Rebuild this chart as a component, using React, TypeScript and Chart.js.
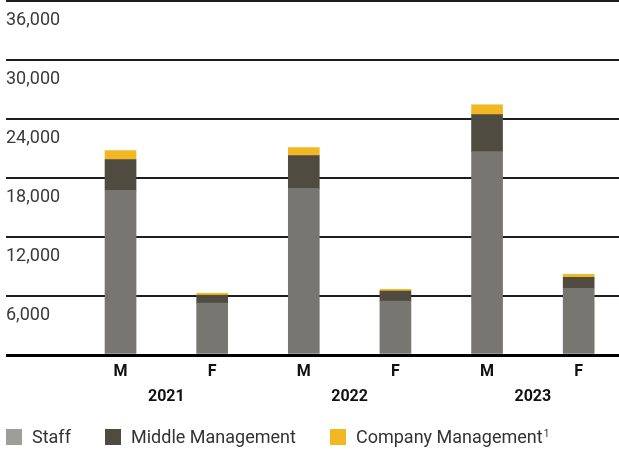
import React, { useEffect, useRef } from "react";
import { Chart, registerables } from "chart.js";

Chart.register(...registerables);

const years = ["2021", "2022", "2023"];
const genders = ["M", "F", "M", "F", "M", "F"];
const staff = [16730, 5270, 16930, 5480, 20690, 6790];
const middleManagement = [3140, 810, 3350, 1010, 3750, 1120];
const companyManagement = [910, 200, 810, 200, 1010, 300];
const yTicks = [0, 6000, 12000, 18000, 24000, 30000, 36000];

const FONT = "Roboto, 'Noto Sans', sans-serif";

export default function App() {
  const ref = useRef<HTMLCanvasElement | null>(null);

  useEffect(() => {
    document.body.style.margin = "0";
    const canvas = ref.current;
    if (!canvas) return;
    const toPoints = (arr: number[]) => arr.map((v, i) => ({ x: i, y: v }));
    const noPadX = (s: any, h: number) => {
      s.height = h;
      s.paddingLeft = 0;
      s.paddingRight = 0;
    };
    const chart = new Chart(canvas, {
      type: "bar",
      data: {
        datasets: [
          { label: "Staff", data: toPoints(staff), backgroundColor: "#777670", barThickness: 31 },
          { label: "Middle Management", data: toPoints(middleManagement), backgroundColor: "#4f4b40", barThickness: 31 },
          { label: "Company Management", data: toPoints(companyManagement), backgroundColor: "#f2b824", barThickness: 31 },
        ],
      },
      options: {
        animation: false,
        responsive: false,
        maintainAspectRatio: false,
        layout: { padding: { left: 6, right: 0, top: 1, bottom: 42 } },
        plugins: { legend: { display: false }, tooltip: { enabled: false } },
        scales: {
          x: {
            type: "linear",
            position: "bottom",
            stacked: true,
            offset: false,
            min: -1.25,
            max: 5.44,
            weight: 0,
            grid: { display: false, drawTicks: false },
            border: { display: false },
            afterBuildTicks: (s: any) => {
              s.ticks = genders.map((_, i) => ({ value: i }));
            },
            afterFit: (s: any) => noPadX(s, 27),
            ticks: {
              autoSkip: false,
              maxRotation: 0,
              padding: 7,
              color: "#111",
              font: { family: FONT, size: 16, weight: "bold" },
              callback: (v: any) => genders[Number(v)] ?? "",
            },
          },
          x2: {
            type: "linear",
            position: "bottom",
            offset: false,
            min: -1.25,
            max: 5.44,
            weight: 1,
            grid: { display: false, drawTicks: false },
            border: { display: false },
            afterBuildTicks: (s: any) => {
              s.ticks = years.map((_, i) => ({ value: i * 2 + 0.5 }));
            },
            afterFit: (s: any) => noPadX(s, 26),
            ticks: {
              autoSkip: false,
              maxRotation: 0,
              padding: 5,
              color: "#111",
              font: { family: FONT, size: 16, weight: "bold" },
              callback: (v: any) => years[Math.round((Number(v) - 0.5) / 2)] ?? "",
            },
          },
          y: {
            type: "linear",
            stacked: true,
            min: yTicks[0],
            max: yTicks[yTicks.length - 1],
            afterBuildTicks: (s: any) => {
              s.ticks = yTicks.map((v) => ({ value: v }));
            },
            afterFit: (s: any) => {
              s.paddingTop = 0;
              s.paddingBottom = 0;
            },
            grid: {
              drawTicks: false,
              color: (c: any) => (c.tick && c.tick.value === 0 ? "#000" : "#1e1e1e"),
              lineWidth: (c: any) => (c.tick && c.tick.value === 0 ? 3 : 2),
            },
            border: { display: false },
            ticks: {
              mirror: true,
              padding: 0,
              labelOffset: 19,
              color: "#3a3a3a",
              font: { family: FONT, size: 18 },
              callback: (v: any) => (Number(v) === 0 ? "" : Number(v).toLocaleString("en-US")),
            },
          },
        },
      },
    });
    return () => chart.destroy();
  }, []);

  const legendItems = [
    { label: "Staff", color: "#9e9d98", left: 6, sup: "" },
    { label: "Middle Management", color: "#4f4b40", left: 105, sup: "" },
    { label: "Company Management", color: "#f2b824", left: 330, sup: "1" },
  ];

  return (
    <div style={{ position: "relative", width: 619, height: 450, fontFamily: FONT }}>
      <canvas ref={ref} width={619} height={450} style={{ display: "block" }} />
      {legendItems.map((it) => (
        <div
          key={it.label}
          style={{
            position: "absolute",
            left: it.left,
            top: 429,
            height: 16,
            display: "flex",
            alignItems: "center",
            whiteSpace: "nowrap",
          }}
        >
          <span style={{ display: "inline-block", width: 16, height: 16, background: it.color }} />
          <span style={{ marginLeft: 10, fontSize: 18, color: "#333", lineHeight: "16px" }}>
            {it.label}
            {it.sup ? (
              <sup style={{ fontSize: 10, verticalAlign: "top", position: "relative", top: -3, marginLeft: 1 }}>{it.sup}</sup>
            ) : null}
          </span>
        </div>
      ))}
    </div>
  );
}
